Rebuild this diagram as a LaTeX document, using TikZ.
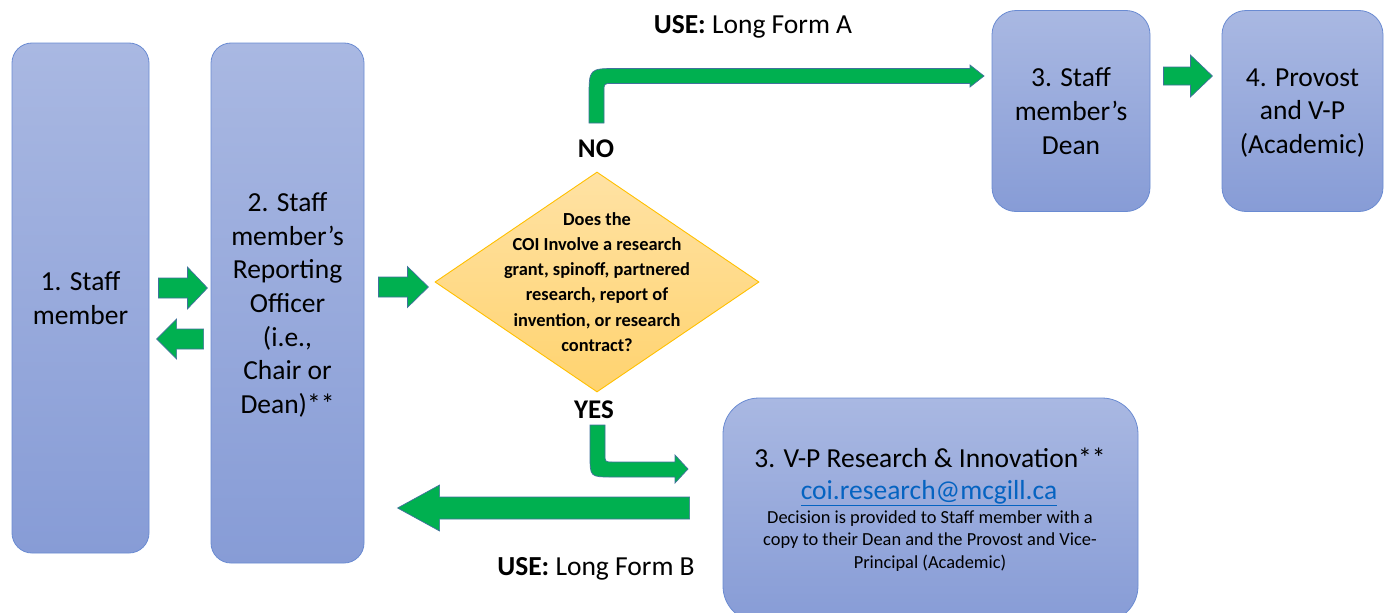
\documentclass[tikz,border=0pt]{standalone}
\usepackage{fontspec}
\setmainfont{Carlito}
\usepackage{xcolor}
\usepackage{tikz}
\usetikzlibrary{calc,shapes.geometric}
\definecolor{boxtop}{HTML}{A9B8E2}
\definecolor{boxbot}{HTML}{879CD6}
\definecolor{boxline}{HTML}{6A8BD2}
\definecolor{qtop}{HTML}{FFE2A4}
\definecolor{qbot}{HTML}{FFD36F}
\definecolor{qline}{HTML}{FFC000}
\definecolor{flow}{HTML}{00B050}
\definecolor{flowline}{HTML}{41719C}
\definecolor{maillink}{HTML}{0563C1}
\tikzset{
  stage/.style={draw=boxline, line width=0.8pt, top color=boxtop, bottom color=boxbot,
    rounded corners=20pt, align=center, inner sep=0pt, text=black,
    font=\fontsize{27.5}{33.7}\selectfont},
  question/.style={diamond, draw=qline, line width=0.9pt, top color=qtop, bottom color=qbot, inner sep=0pt},
  qtxt/.style={align=center, inner sep=0pt, font=\bfseries\fontsize{18.4}{25.2}\selectfont},
  answer/.style={anchor=base, inner sep=0pt, font=\bfseries\fontsize{27}{32}\selectfont},
  formlab/.style={anchor=base, inner sep=0pt, font=\fontsize{27.5}{33}\selectfont},
  blk/.style={fill=flow, draw=flowline, line width=0.7pt, line join=miter}
}

\begin{document}
\begin{tikzpicture}[x=1pt,y=1pt]
  \fill[white] (0,0) rectangle (1385,-613);
  \useasboundingbox (0,0) rectangle (1385,-613);

  % boxes
  \node[stage, minimum width=137pt, minimum height=510pt] (staff) at (80.5,-298) {1. Staff\\member};
  \node[stage, text depth=0pt, minimum width=153pt, minimum height=520pt] (officer) at (287.5,-303)
    {2. Staff\\member’s\\Reporting\\Officer\\(i.e.,\\Chair or\\Dean)**};
  \node[stage, rounded corners=24pt, minimum width=158pt, minimum height=201pt] (dean) at (1071,-111)
    {3. Staff\\member’s\\Dean};
  \node[stage, text depth=0pt, rounded corners=24pt, minimum width=161pt, minimum height=201pt] (provost) at (1302.5,-111)
    {4. Provost\\and V-P\\(Academic)};
  \node[stage, rounded corners=36pt, minimum width=415pt, minimum height=224pt] (vp) at (930.5,-510) {};
  \node[formlab, anchor=center] (vptitle) at (930,-458) {3. V-P Research \& Innovation**};
  \node[formlab] (vpmail) at (929,-499) {\color{maillink}\underline{coi.research@mcgill.ca}};
  \node[align=center, inner sep=0pt, font=\fontsize{18.4}{22.4}\selectfont] (vpnote) at (930,-541)
    {Decision is provided to Staff member with a\\copy to their Dean and the Provost and Vice-\\Principal (Academic)};

  % decision
  \node[question, minimum width=324pt, minimum height=220pt] (q) at (597,-282) {};
  \node[qtxt] (qtext) at (q.center)
    {Does the\\COI Involve a research\\grant, spinoff, partnered\\research, report of\\invention, or research\\contract?};

  \node[answer] (no) at (596,-157) {NO};
  \node[answer] (yes) at (594,-418) {YES};
  \node[formlab] (formA) at (753,-33) {\textbf{USE:} Long Form A};
  \node[formlab] (formB) at (596,-575) {\textbf{USE:} Long Form B};

  % block arrows
  \draw[blk] ($(staff.east)+(9,20)$) -- ++(29,0) -- ++(0,11) -- ++(20,-21) -- ++(-20,-21) -- ++(0,11) -- ++(-29,0) -- cycle;
  \draw[blk] ($(officer.west)+(-7,-26)$) -- ++(-27,0) -- ++(0,10) -- ++(-20,-20) -- ++(20,-20) -- ++(0,10) -- ++(27,0) -- cycle;
  \draw[blk] ($(officer.east)+(14,26)$) -- ++(29,0) -- ++(0,10.5) -- ++(21,-20.5) -- ++(-21,-20.5) -- ++(0,10.5) -- ++(-29,0) -- cycle;
  \draw[blk] ($(dean.east)+(13,44)$) -- ++(27,0) -- ++(0,12) -- ++(22,-21) -- ++(-22,-21) -- ++(0,12) -- ++(-27,0) -- cycle;
  \draw[blk] ($(vp.west)+(-33,13)$) -- ++(-250,0) -- ++(0,12) -- ++(-42,-23) -- ++(42,-23) -- ++(0,12) -- ++(250,0) -- cycle;

  % bent arrows
  \draw[blk] (589,-123) -- (589,-98) .. controls (589,-68.5) .. (617,-68.5) -- (970,-68.5) -- (970,-65)
    -- (984,-76) -- (970,-87) -- (970,-83.5) -- (612,-83.5) .. controls (604,-83.5) .. (604,-91.5)
    -- (604,-123) -- cycle;
  \draw[blk] (590,-425) -- (590,-455) .. controls (590,-477) .. (612,-477) -- (675,-477) -- (675,-483)
    -- (688,-469) -- (675,-455) -- (675,-462) -- (613,-462) .. controls (605,-462) .. (605,-454)
    -- (605,-425) -- cycle;
\end{tikzpicture}
\end{document}
